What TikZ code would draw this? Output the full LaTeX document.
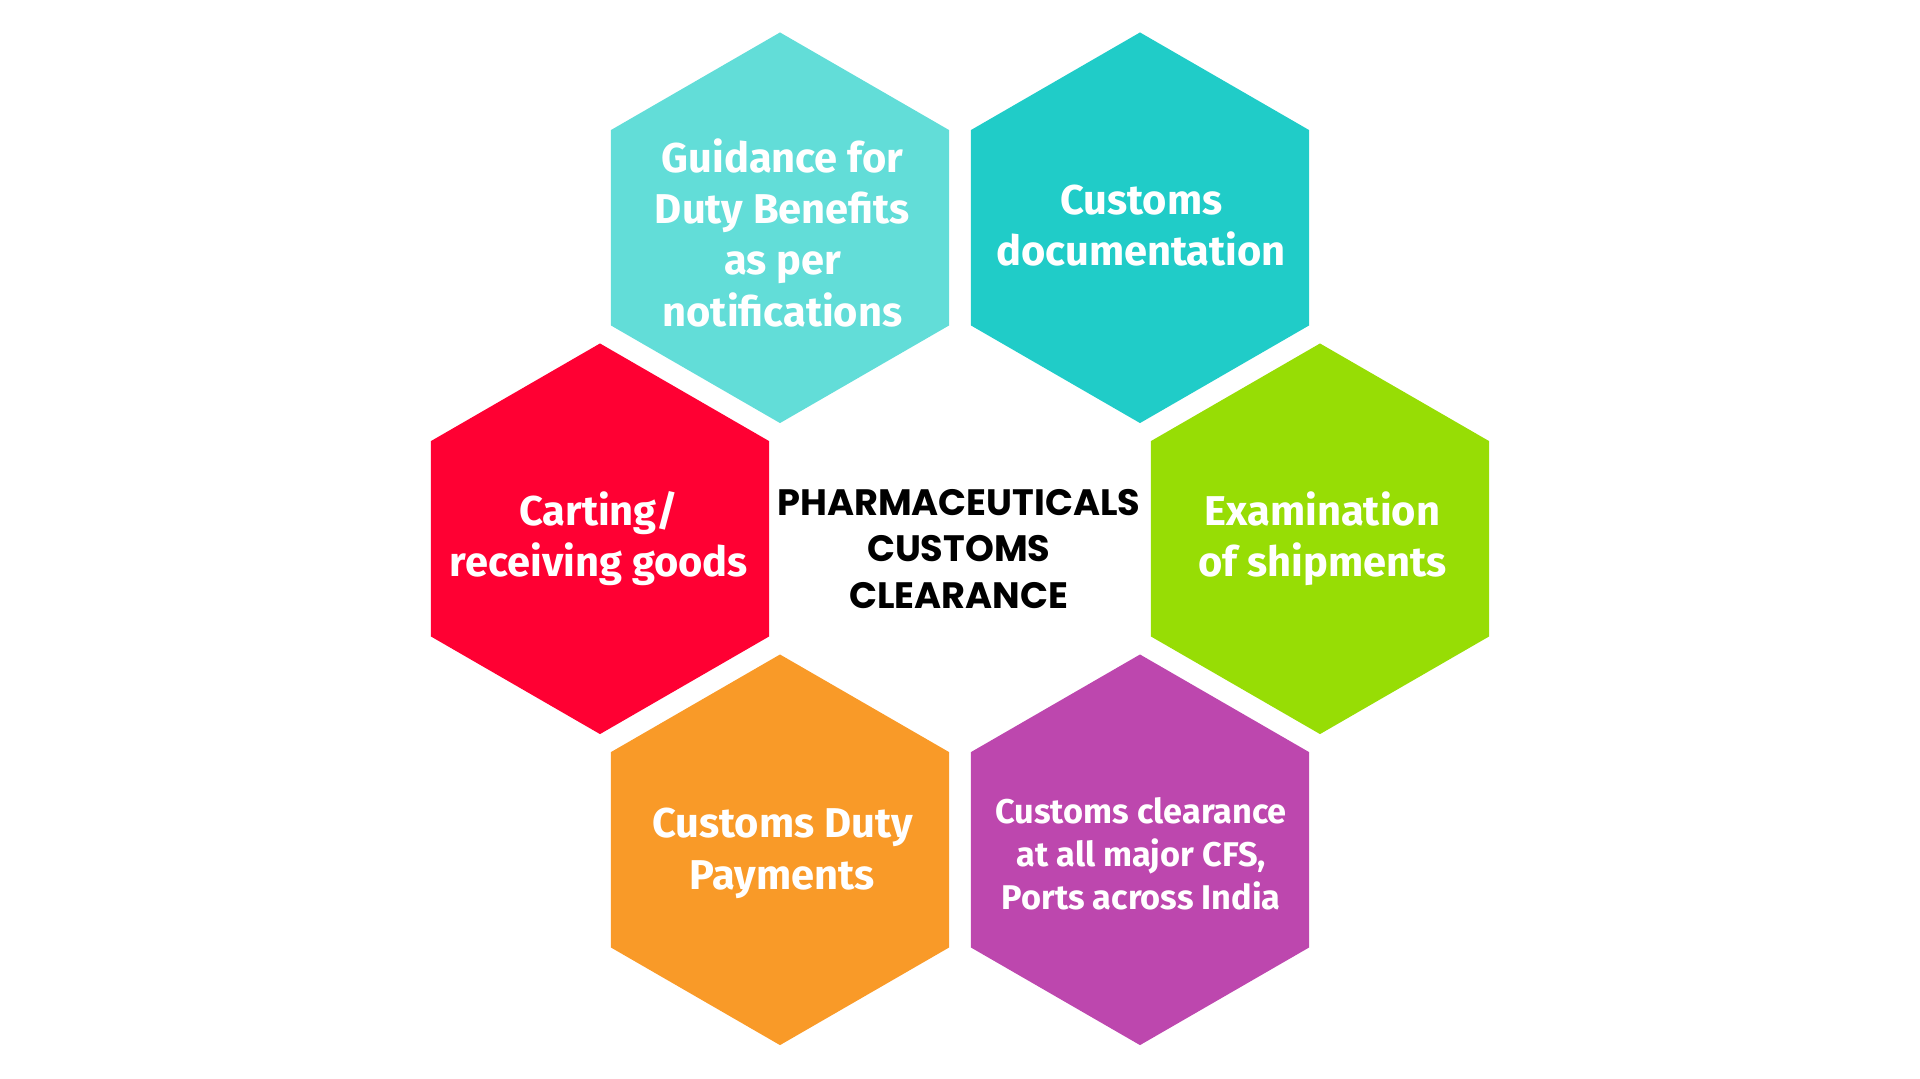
\documentclass[tikz,border=0pt]{standalone}
\usepackage{fontspec}
\setmainfont{Fira Sans}
\newfontfamily\titlefont{Poppins}
\definecolor{cTL}{HTML}{62DDD8}
\definecolor{cTR}{HTML}{20CCC8}
\definecolor{cL}{HTML}{FF0033}
\definecolor{cR}{HTML}{97DD05}
\definecolor{cBL}{HTML}{F99A28}
\definecolor{cBR}{HTML}{BD47AE}
\newcommand{\hexfill}[3]{\fill[#3] (#1pt,-#2pt) ++(90:159.5pt) -- ++(-30:159.5pt) -- ++(-90:159.5pt) -- ++(-150:159.5pt) -- ++(150:159.5pt) -- ++(90:159.5pt) -- cycle;}
\tikzset{
 lbl/.style={text=white, align=center, font=\bfseries\fontsize{34}{42}\selectfont},
 lblsmall/.style={text=white, align=center, font=\bfseries\fontsize{28}{35}\selectfont},
 title/.style={text=black, align=center, font=\titlefont\bfseries\fontsize{30}{38}\selectfont}
}
\begin{document}
\begin{tikzpicture}[x=1pt,y=1pt]
\useasboundingbox (0,0) rectangle (1568,-880.4);
\hexfill{637}{186}{cTL}
\hexfill{931}{186}{cTR}
\hexfill{490}{440}{cL}
\hexfill{1078}{440}{cR}
\hexfill{637}{694}{cBL}
\hexfill{931}{694}{cBR}
\node[lbl] (tl) at (639,-190) {Guidance for\\Duty Benefits\\as per\\notifications};
\node[lbl] (tr) at (932,-184) {Customs\\documentation};
\node[lbl] (l) at (489,-440) {Carting/\\receiving goods};
\node[lbl] (r) at (1080,-440) {Examination\\of shipments};
\node[lbl] (bl) at (639,-697) {Customs Duty\\Payments};
\node[lblsmall] (br) at (932,-697) {Customs clearance\\at all major CFS,\\Ports across India};
\node[title] (c) at (783,-448) {PHARMACEUTICALS\\CUSTOMS\\CLEARANCE};
\end{tikzpicture}
\end{document}
